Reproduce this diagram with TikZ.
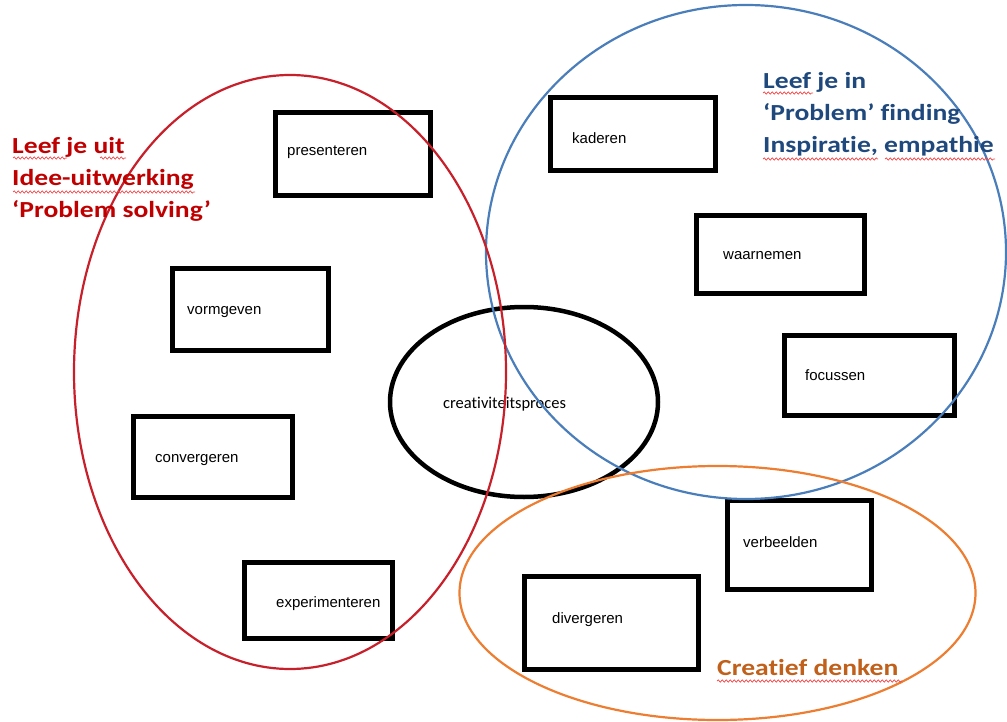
\documentclass[tikz,border=0pt]{standalone}
\usepackage{fontspec}
\setmainfont{Liberation Sans}
\newfontfamily\calibri[Ligatures=NoCommon]{Carlito}
\usetikzlibrary{positioning,decorations.pathmorphing}

\definecolor{uitred}{HTML}{C00000}
\definecolor{inblue}{HTML}{1F497D}
\definecolor{denkbrown}{HTML}{C0601A}
\definecolor{ringred}{HTML}{C8202A}
\definecolor{ringblue}{HTML}{4A7EBB}
\definecolor{ringorange}{HTML}{ED7D31}
\definecolor{squiggle}{HTML}{F04848}

\begin{document}
\begin{tikzpicture}[x=1pt,y=-1pt,
  box/.style={draw,rectangle,line width=5pt},
  lbl/.style={anchor=west,inner sep=0pt,font=\fontsize{15}{18}\selectfont},
  heading/.style={anchor=base west,align=left,inner sep=0pt,xscale=1.2,transform shape,
    font=\calibri\bfseries\fontsize{23}{32}\selectfont},
  typo/.style={squiggle,line width=0.7pt,decorate,
    decoration={snake,segment length=4pt,amplitude=1.2pt}}]
\useasboundingbox (0,0) rectangle (1007,722);

% the nine activities
\node[box,minimum width=155,minimum height=83] (presenteren) at (353,154) {};
\node[box,minimum width=165,minimum height=73] (kaderen) at (633,134) {};
\node[box,minimum width=168,minimum height=78] (waarnemen) at (780.5,254.5) {};
\node[box,minimum width=156,minimum height=82] (vormgeven) at (250.5,309.5) {};
\node[box,minimum width=170,minimum height=80] (focussen) at (869.5,375.5) {};
\node[box,minimum width=159,minimum height=81] (convergeren) at (213,457) {};
\node[box,minimum width=144,minimum height=89] (verbeelden) at (799.5,545) {};
\node[box,minimum width=148,minimum height=76] (experimenteren) at (318.5,600.5) {};
\node[box,minimum width=174,minimum height=93] (divergeren) at (611.5,623) {};

\node[lbl] (tpresenteren) at (287,152) {presenteren};
\node[lbl] (tkaderen) at (572,138) {kaderen};
\node[lbl] (twaarnemen) at (723,256) {waarnemen};
\node[lbl] (tvormgeven) at (187,312) {vormgeven};
\node[lbl] (tfocussen) at (805,375) {focussen};
\node[lbl] (tconvergeren) at (155,460) {convergeren};
\node[lbl] (tverbeelden) at (743,542) {verbeelden};
\node[lbl] (texperimenteren) at (276,604) {experimenteren};
\node[lbl] (tdivergeren) at (552,620) {divergeren};

% centre
\draw[line width=4.5pt] (524,402) ellipse [x radius=134,y radius=95];
\node[lbl,font=\calibri\fontsize{16.5}{18}\selectfont] (proces) at (443,404) {creativiteitsproces};

% the three fields
\draw[ringblue,line width=2.2pt] (746,252) ellipse [x radius=260,y radius=247];
\draw[ringorange,line width=2.2pt] (717.5,593) ellipse [x radius=258,y radius=127];
\draw[ringred,line width=2.2pt] (290,372) ellipse [x radius=216,y radius=297];

% last baseline sits at the given point
\node[heading,text=uitred] (uit) at (12,218)
  {Leef je uit\\ Idee-uitwerking\\ ‘Problem solving’};
\node[heading,text=inblue] (in) at (763,153)
  {Leef je in\\ ‘Problem’ finding\\ Inspiratie, empathie};
\node[heading,text=denkbrown] (denken) at (717,675) {Creatief denken};

% spelling marks
\draw[typo] (13,158) -- (67,158);
\draw[typo] (100,158) -- (126,158);
\draw[typo] (13,192) -- (195,192);
\draw[typo] (763,93) -- (813,93);
\draw[typo] (763,159) -- (878,159);
\draw[typo] (885,159) -- (995,159);
\draw[typo] (717,681) -- (902,681);
\end{tikzpicture}
\end{document}
